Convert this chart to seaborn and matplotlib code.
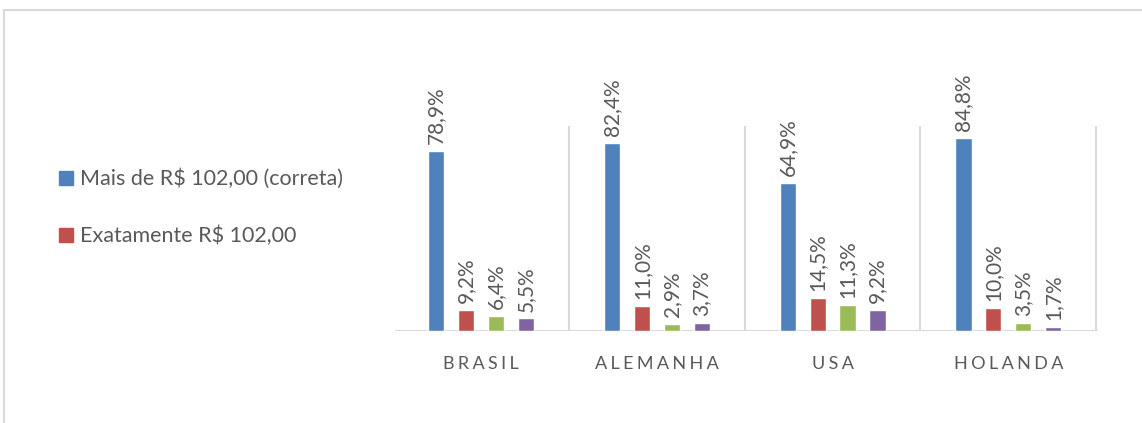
import pandas as pd
import matplotlib.pyplot as plt
import seaborn as sns
from matplotlib.lines import Line2D

# Data
paises = ['BRASIL', 'ALEMANHA', 'USA', 'HOLANDA']
respostas = ['Mais de R$ 102,00 (correta)', 'Exatamente R$ 102,00',
             'Menos de R$ 102,00', 'Não sabe']
mais_de = [78.9, 82.4, 64.9, 84.8]
exatamente = [9.2, 11.0, 14.5, 10.0]
menos_de = [6.4, 2.9, 11.3, 3.5]
nao_sabe = [5.5, 3.7, 9.2, 1.7]

cores = ['#4F81BD', '#C0504D', '#9BBB59', '#8064A2']
cinza = '#595959'

df = pd.DataFrame({
    'pais': paises * 4,
    'resposta': [r for r in respostas for _ in paises],
    'valor': mais_de + exatamente + menos_de + nao_sabe,
})

sns.set_style('white')
plt.rcParams['font.family'] = ['Lato', 'DejaVu Sans']

fig = plt.figure(figsize=(11.42, 4.23), dpi=100)
ax = fig.add_axes([395 / 1142, 1 - 331 / 423, (1098 - 395) / 1142, (331 - 126) / 423])

sns.barplot(data=df, x='pais', y='valor', hue='resposta', palette=cores,
            width=0.68, gap=0.46, ax=ax, legend=False, saturation=1)

# data labels, rotated
for cont, serie in zip(ax.containers, [mais_de, exatamente, menos_de, nao_sabe]):
    ax.bar_label(cont, labels=[f'{v:.1f}%'.replace('.', ',') for v in serie],
                 rotation=90, padding=5, color=cinza, fontsize=15, clip_on=False)

ax.set_xlim(-0.49, 3.51)
ax.set_ylim(0, 90)
ax.set_xlabel('')
ax.set_ylabel('')
ax.set_yticks([])
for s in ax.spines.values():
    s.set_visible(False)
for x in [-0.5, 0.5, 1.5, 2.5, 3.5]:
    ax.axvline(x, color='#D9D9D9', lw=1.5, zorder=0)
ax.axhline(0, color='#D9D9D9', lw=2.2, zorder=0)

ax.set_xticks(range(len(paises)))
ax.set_xticklabels(['\u2009\u200a'.join(p) for p in paises], color=cinza, fontsize=13)
ax.tick_params(axis='x', length=0, pad=18)

# legend (only the first two entries fit in the original)
handles = [Line2D([], [], marker='s', ls='', color=c, markersize=10) for c in cores[:2]]
fig.legend(handles, respostas[:2], loc='upper left',
           bbox_to_anchor=(50 / 1142, 1 - 160 / 423), frameon=False,
           fontsize=15.5, labelcolor=cinza, handlelength=0.7, handletextpad=0.3,
           labelspacing=1.7, borderaxespad=0)

# chart frame
fig.add_artist(Line2D([4 / 1142, 4 / 1142], [0, 1 - 10 / 423], color='#D9D9D9', lw=1.5,
                      transform=fig.transFigure))
fig.add_artist(Line2D([4 / 1142, 1], [1 - 10 / 423, 1 - 10 / 423], color='#D9D9D9', lw=1.5,
                      transform=fig.transFigure))

fig.savefig('out.png', dpi=100)
